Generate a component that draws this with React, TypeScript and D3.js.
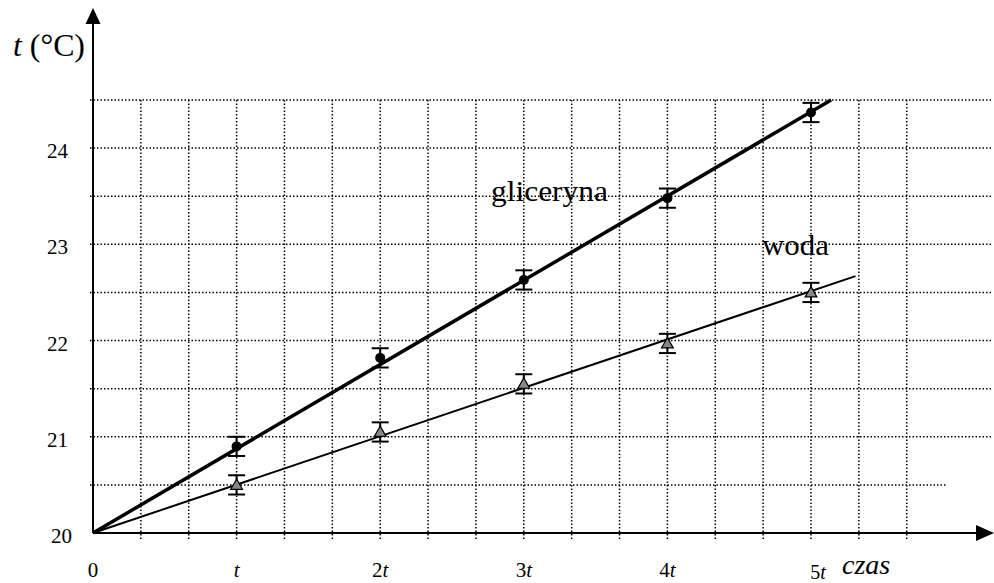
import React from "react";
import * as d3 from "d3";

const timeSteps = [1, 2, 3, 4, 5];
const glicerynaValues = [20.9, 21.82, 22.63, 23.48, 24.37];
const wodaValues = [20.5, 21.05, 21.55, 21.97, 22.5];
const errorValue = 0.1;
const glicerynaLineEnd = { t: 5.14, v: 24.5 };
const wodaLineEnd = { t: 5.31, v: 22.67 };
const yTickValues = [20, 21, 22, 23, 24];
const xTickLabels = [
  { t: 0, num: "0", sym: "" },
  { t: 1, num: "", sym: "t" },
  { t: 2, num: "2", sym: "t" },
  { t: 3, num: "3", sym: "t" },
  { t: 4, num: "4", sym: "t" },
];
const gridYValues = [20.5, 21, 21.5, 22, 22.5, 23, 23.5, 24, 24.5];

export default function App() {
  const W = 994, H = 583;
  const x = d3.scaleLinear().domain([0, 5]).range([93, 811]);
  const y = d3.scaleLinear().domain([20, 24.5]).range([533, 100]);
  const gridStep = (x(1) - x(0)) / 3;
  const gridX = d3.range(1, 18).map((k) => x(0) + k * gridStep);
  const line = d3.line<[number, number]>().x((d) => x(d[0])).y((d) => y(d[1]));
  const tri = d3.symbol().type(d3.symbolTriangle).size(60)();
  const serif = "Liberation Serif";

  return (
    <svg width={W} height={H} style={{ position: "absolute", left: 0, top: 0, background: "#fff" }}>
      <rect width={W} height={H} fill="#fff" />
      {/* grid */}
      <g stroke="#000" strokeWidth={1.5} strokeDasharray="1.5,2">
        {gridYValues.map((v) => (
          <line key={"h" + v} x1={90} x2={v === 20.5 ? 947 : 993} y1={y(v)} y2={y(v)} />
        ))}
        {gridX.map((gx, i) => (
          <line key={"v" + i} x1={gx} x2={gx} y1={y(24.5)} y2={541} />
        ))}
      </g>
      {/* axes */}
      <line x1={x(0)} x2={x(0)} y1={y(20)} y2={22} stroke="#000" strokeWidth={2} />
      <path d={`M${x(0)},8 L${x(0) - 7.5},24 L${x(0) + 7.5},24 Z`} fill="#000" />
      <line x1={x(0)} x2={978} y1={y(20)} y2={y(20)} stroke="#000" strokeWidth={2} />
      <path d={`M994,${y(20)} L976,${y(20) - 8} L976,${y(20) + 8} Z`} fill="#000" />

      {/* fit lines */}
      <path d={line([[0, 20], [glicerynaLineEnd.t, glicerynaLineEnd.v]]) || ""} stroke="#000" strokeWidth={3.5} fill="none" />
      <path d={line([[0, 20], [wodaLineEnd.t, wodaLineEnd.v]]) || ""} stroke="#000" strokeWidth={2} fill="none" />

      {/* error bars + markers */}
      {timeSteps.map((t, i) => (
        <g key={"g" + t}>
          {[glicerynaValues[i], wodaValues[i]].map((v, j) => (
            <g key={j} stroke="#000" strokeWidth={2}>
              <line x1={x(t)} x2={x(t)} y1={y(v - errorValue)} y2={y(v + errorValue)} />
              <line x1={x(t) - 8.5} x2={x(t) + 8.5} y1={y(v - errorValue)} y2={y(v - errorValue)} />
              <line x1={x(t) - 8.5} x2={x(t) + 8.5} y1={y(v + errorValue)} y2={y(v + errorValue)} />
            </g>
          ))}
          <circle cx={x(t)} cy={y(glicerynaValues[i])} r={5} fill="#000" />
          <path d={tri || ""} transform={`translate(${x(t)},${y(wodaValues[i]) + 1})`} fill="#888" stroke="#000" strokeWidth={1.2} />
        </g>
      ))}

      {/* y tick labels */}
      {yTickValues.map((v) => (
        <text key={"yt" + v} x={v === 20 ? 72 : 68} y={y(v) + 10} textAnchor="end" fontFamily={serif} fontSize={21}>
          {v}
        </text>
      ))}
      {/* x tick labels */}
      {xTickLabels.map((d) => (
        <text key={"xt" + d.t} x={x(d.t)} y={577} textAnchor="middle" fontFamily={serif} fontSize={21}>
          {d.num}
          {d.sym && <tspan fontStyle="italic">{d.sym}</tspan>}
        </text>
      ))}
      <text x={x(5) + 7} y={579} textAnchor="middle" fontFamily={serif} fontSize={20}>
        5<tspan fontStyle="italic">t</tspan>
      </text>
      <text x={842} y={574} fontFamily={serif} fontSize={28} fontStyle="italic">czas</text>

      {/* y axis label */}
      <text x={13} y={56} fontFamily={serif} fontSize={31} textLength={72} lengthAdjust="spacingAndGlyphs">
        <tspan fontStyle="italic">t</tspan> (°C)
      </text>

      {/* series labels */}
      <text x={491} y={201} fontFamily={serif} fontSize={30} textLength={117} lengthAdjust="spacingAndGlyphs">gliceryna</text>
      <text x={762} y={255} fontFamily={serif} fontSize={30} textLength={67} lengthAdjust="spacingAndGlyphs">woda</text>
    </svg>
  );
}
